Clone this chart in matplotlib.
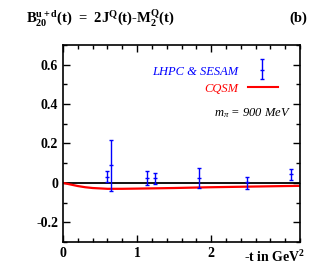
import matplotlib
matplotlib.use("Agg")
import matplotlib.pyplot as plt
from matplotlib.ticker import MultipleLocator

plt.rcParams['font.family'] = ['Liberation Serif', 'DejaVu Serif']
plt.rcParams['mathtext.fontset'] = 'custom'
plt.rcParams['mathtext.rm'] = 'Liberation Serif'
plt.rcParams['mathtext.it'] = 'Liberation Serif:italic'
plt.rcParams['mathtext.bf'] = 'Liberation Serif:bold'

# lattice data (LHPC & SESAM)
lat_t = [0.59, 0.65, 1.13, 1.24, 1.84, 2.48, 3.08]
lat_b = [0.028, 0.089, 0.025, 0.025, 0.025, 0.003, 0.044]
lat_up = [0.059, 0.219, 0.059, 0.052, 0.077, 0.030, 0.071]
lat_lo = [0.003, -0.042, -0.009, -0.005, -0.027, -0.032, 0.017]

# CQSM curve
cq_t = [0, 0.1, 0.2, 0.3, 0.4, 0.6, 0.8, 1.0, 1.5, 2.0, 2.5, 3.0, 3.2]
cq_b = [0, -0.008, -0.016, -0.022, -0.026, -0.030, -0.030, -0.029, -0.026, -0.022, -0.019, -0.016, -0.015]

fig = plt.figure(figsize=(3.27, 2.74), dpi=100)
ax = fig.add_axes([0.1927, 0.1168, 0.7247, 0.719])

ax.axhline(0, color='black', lw=1.3, zorder=1)
ax.plot(cq_t, cq_b, color='red', lw=1.6, zorder=2)

err_lo = [b - l for b, l in zip(lat_b, lat_lo)]
err_up = [u - b for b, u in zip(lat_b, lat_up)]
ax.errorbar(lat_t, lat_b, yerr=[err_lo, err_up], fmt='_', color='blue',
            ms=3, elinewidth=1.0, capsize=1.5, capthick=1.0, zorder=3)

ax.set_xlim(0, 3.2)
ax.set_ylim(-0.3, 0.7)
ax.xaxis.set_major_locator(MultipleLocator(1))
ax.xaxis.set_minor_locator(MultipleLocator(0.2))
ax.yaxis.set_major_locator(MultipleLocator(0.2))
ax.yaxis.set_minor_locator(MultipleLocator(0.1))
ax.tick_params(which='both', direction='in', top=True, right=True, width=1.0)
ax.tick_params(which='major', length=5)
ax.tick_params(which='minor', length=3)
ax.set_xticks([0, 1, 2])
ax.set_xticklabels(['0', '1', '2'], fontweight='bold', fontsize=10)
ax.set_yticks([-0.2, 0, 0.2, 0.4, 0.6])
ax.set_yticklabels(['-0.2', '0', '0.2', '0.4', '0.6'], fontweight='bold', fontsize=10)
for s in ax.spines.values():
    s.set_linewidth(1.2)

fig.text(0.745, 0.045, r'-t in GeV$^\mathbf{2}$', fontsize=10, fontweight='bold')

fig.text(0.08, 0.935, r'$\mathbf{B_{20}^{u+d}}$(t)  =  2$\mathbf{J^Q}$(t)-$\mathbf{M_2^Q}$(t)',
         fontsize=10.5, fontweight='bold', va='center')
fig.text(0.885, 0.935, '(b)', fontsize=10.5, fontweight='bold', va='center')

# legend
fig.text(0.728, 0.737, 'LHPC & SESAM', color='blue', style='italic', fontsize=9,
         ha='right', va='center')
fig.text(0.728, 0.675, 'CQSM', color='red', style='italic', fontsize=9,
         ha='right', va='center')
fig.text(0.89, 0.587, r'$m_\pi$ = 900 MeV', color='black', style='italic', fontsize=9,
         ha='right', va='center')
ax.errorbar([2.69], [0.575], yerr=[[0.046], [0.054]], fmt='_', color='blue', ms=3,
            elinewidth=1.0, capsize=1.5, capthick=1.0)
ax.plot([2.50, 2.90], [0.489, 0.489], color='red', lw=1.5)

fig.savefig('out.png', dpi=100)
